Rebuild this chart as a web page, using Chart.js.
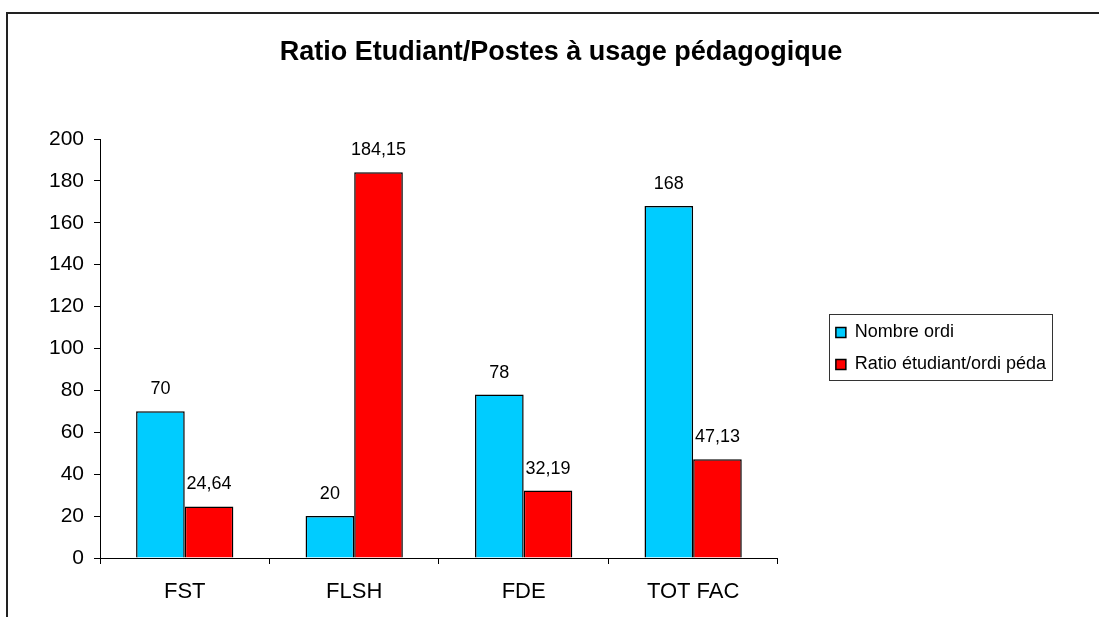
<!DOCTYPE html>
<html>
<head>
<meta charset="utf-8">
<script src="https://cdn.jsdelivr.net/npm/chart.js@4"></script>
<style>
    html, body { margin: 0; padding: 0; background: #fff; }
    #wrap { width: 1099px; height: 617px; }
</style>
</head>
<body>
<div id="wrap"><canvas id="graf"></canvas></div>
<script>
var categorias = ["FST", "FLSH", "FDE", "TOT FAC"];
var nombreOrdi = [70, 20, 78, 168];
var ratioEtudiant = [24.64, 184.15, 32.19, 47.13];
var nomSeries = ["Nombre ordi", "Ratio étudiant/ordi péda"];
var titre = "Ratio Etudiant/Postes à usage pédagogique";

var police = "'Liberation Sans', Arial, sans-serif";

function formatValeur(v)
{
    return String(v).replace(".", ",");
}

// cadre gauche/haut comme dans Excel + bordure de la légende
var cadre = {
    id: "cadre",
    afterLayout: function (chart) {
        // le titre est centré sur toute la largeur de la zone graphique
        if (chart.titleBlock) {
            chart.titleBlock.left += 26;
        }
    },
    beforeDraw: function (chart) {
        var ctx = chart.ctx;
        ctx.save();
        ctx.fillStyle = "#fff";
        ctx.fillRect(0, 0, chart.width, chart.height);
        ctx.strokeStyle = "#222";
        ctx.lineWidth = 2;
        ctx.beginPath();
        ctx.moveTo(7, chart.height);
        ctx.lineTo(7, 13);
        ctx.lineTo(chart.width, 13);
        ctx.stroke();
        ctx.restore();
    },
    afterDraw: function (chart) {
        var leg = chart.legend;
        if (!leg || !leg.legendHitBoxes || !leg.legendHitBoxes.length) return;
        var boxes = leg.legendHitBoxes;
        var l = Infinity, r = -Infinity, t = Infinity, b = -Infinity;
        boxes.forEach(function (h) {
            l = Math.min(l, h.left);
            r = Math.max(r, h.left + h.width);
            t = Math.min(t, h.top);
            b = Math.max(b, h.top + h.height);
        });
        var ctx = chart.ctx;
        ctx.save();
        ctx.strokeStyle = "#333";
        ctx.lineWidth = 1;
        ctx.strokeRect(Math.round(l - 7) + 0.5, Math.round(t - 10) + 0.5,
            Math.round(r - l + 13), Math.round(b - t + 16));
        ctx.restore();
    }
};

var etiquettes = {
    id: "etiquettes",
    afterDatasetsDraw: function (chart) {
        var ctx = chart.ctx;
        ctx.save();
        ctx.fillStyle = "#000";
        ctx.font = "18px " + police;
        ctx.textAlign = "center";
        ctx.textBaseline = "alphabetic";
        chart.data.datasets.forEach(function (ds, i) {
            var meta = chart.getDatasetMeta(i);
            meta.data.forEach(function (bar, j) {
                ctx.fillText(formatValeur(ds.data[j]), bar.x, bar.y - 17);
            });
        });
        ctx.restore();
    }
};

var data = {
    labels: categorias,
    datasets: [
        {
            label: nomSeries[0],
            data: nombreOrdi,
            backgroundColor: "#00CCFF",
            borderColor: "#000",
            borderWidth: 1.5
        },
        {
            label: nomSeries[1],
            data: ratioEtudiant,
            backgroundColor: "#FF0000",
            borderColor: "#000",
            borderWidth: 1.5
        }]
};

var options = {
    responsive: true,
    maintainAspectRatio: false,
    animation: false,
    categoryPercentage: 0.574,
    barPercentage: 1.0,
    layout: { padding: { left: 40, right: 43, top: 0, bottom: 14 } },
    plugins: {
        title: {
            display: true,
            text: titre,
            color: "#000",
            font: { family: police, size: 27, weight: "bold" },
            padding: { top: 36, bottom: 70.6 }
        },
        legend: {
            position: "right",
            fullSize: false,
            maxWidth: 300,
            labels: {
                color: "#000",
                font: { family: police, size: 18 },
                boxWidth: 10,
                boxHeight: 10,
                padding: 14
            }
        },
        tooltip: { enabled: false }
    },
    scales: {
        x: {
            grid: { drawOnChartArea: false, tickLength: 6, color: "#000", offset: true },
            border: { color: "#000", width: 1 },
            ticks: { color: "#000", font: { family: police, size: 22 }, padding: 15, maxRotation: 0 },
            afterFit: function (s) { s.height = 45; }
        },
        y: {
            min: 0,
            max: 200,
            grid: { drawOnChartArea: false, tickLength: 6, color: "#000" },
            border: { color: "#000", width: 1 },
            ticks: { stepSize: 20, color: "#000", font: { family: police, size: 21 }, padding: 10 },
            afterFit: function (s) { s.width = 60; }
        },
        ecart: {
            type: "linear",
            position: "right",
            grid: { display: false },
            border: { display: false },
            ticks: { display: false },
            afterFit: function (s) { s.width = 44; }
        }
    }
};

new Chart(document.getElementById("graf"), {
    type: "bar",
    data: data,
    options: options,
    plugins: [cadre, etiquettes]
});
</script>
</body>
</html>
